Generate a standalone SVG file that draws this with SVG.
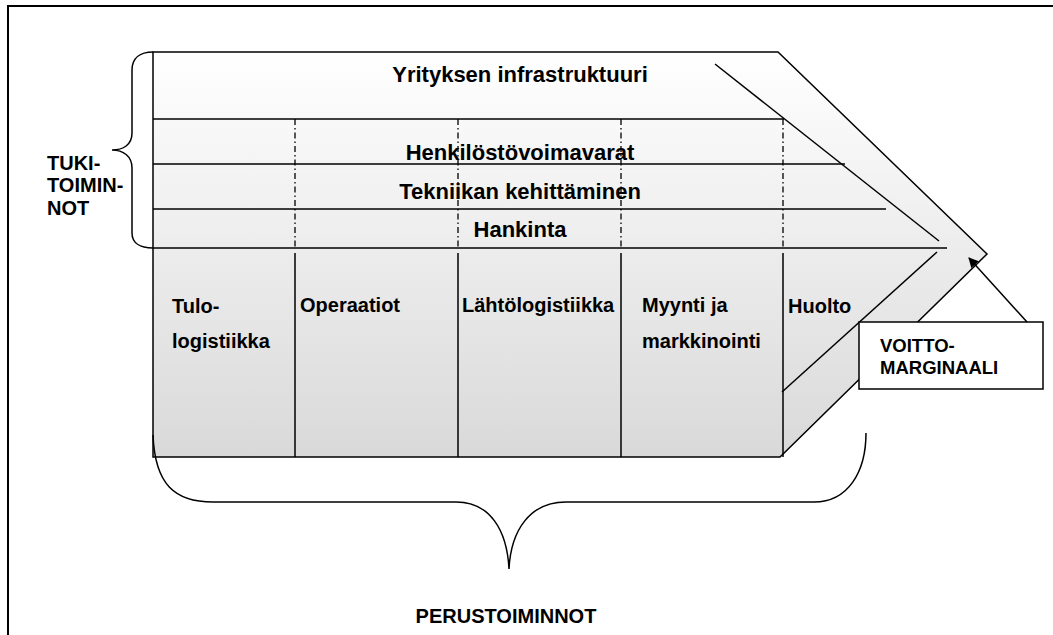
<svg xmlns="http://www.w3.org/2000/svg" width="1053" height="635" viewBox="0 0 1053 635">
  <defs>
    <linearGradient id="bodyFill" x1="0" y1="0" x2="0" y2="1">
      <stop offset="0" stop-color="#ffffff"/>
      <stop offset="1" stop-color="#d9d9d9"/>
    </linearGradient>
    <marker id="arrowHead" viewBox="0 0 10 10" refX="9" refY="5" markerWidth="10" markerHeight="10" markerUnits="userSpaceOnUse" orient="auto">
      <path d="M0,0 L10,5 L0,10 Z" fill="#000"/>
    </marker>
  </defs>
  <style>
    .line { stroke: #000; stroke-width: 1.5; fill: none; }
    .dashdot { stroke: #000; stroke-width: 1.3; fill: none; stroke-dasharray: 6 3 1.5 3; }
    .big { font-family: "Liberation Sans", Arial, sans-serif; font-weight: bold; font-size: 22px; fill: #000; }
    .lbl { font-family: "Liberation Sans", Arial, sans-serif; font-weight: bold; font-size: 20px; fill: #000; }
    .box { font-family: "Liberation Sans", Arial, sans-serif; font-weight: bold; font-size: 18.5px; fill: #000; }
  </style>

  <rect width="1053" height="635" fill="#fff"/>

  <!-- page frame -->
  <path d="M8,635 L8,6 L1053,6" stroke="#000" stroke-width="2" fill="none"/>

  <!-- arrow-shaped value chain body -->
  <g id="chain-body">
    <polygon points="153,52 778,52 987,254 780,457 153,457" fill="url(#bodyFill)" stroke="#000" stroke-width="1.5"/>
    <!-- inner bevel edges -->
    <line class="line" x1="715" y1="64" x2="939" y2="241"/>
    <line class="line" x1="937" y1="252" x2="782" y2="392"/>
  </g>

  <!-- support activities -->
  <g id="support-rows">
    <line class="line" x1="153" y1="119" x2="784" y2="119"/>
    <line class="line" x1="153" y1="164" x2="845" y2="164"/>
    <line class="line" x1="153" y1="209" x2="886" y2="209"/>
    <line class="line" x1="153" y1="248" x2="947" y2="248"/>
    <line class="dashdot" x1="295" y1="119" x2="295" y2="248"/>
    <line class="dashdot" x1="458" y1="119" x2="458" y2="248"/>
    <line class="dashdot" x1="621" y1="119" x2="621" y2="248"/>
    <line class="dashdot" x1="783" y1="119" x2="783" y2="248"/>
  </g>
  <g id="infra"><text class="big" x="520" y="82" text-anchor="middle">Yrityksen infrastruktuuri</text></g>
  <g id="hr"><text class="big" x="520" y="160" text-anchor="middle">Henkilöstövoimavarat</text></g>
  <g id="tech"><text class="big" x="520" y="199" text-anchor="middle">Tekniikan kehittäminen</text></g>
  <g id="procurement"><text class="big" x="520" y="237" text-anchor="middle">Hankinta</text></g>

  <!-- primary activities -->
  <g id="primary-columns">
    <line class="line" x1="295" y1="253" x2="295" y2="457"/>
    <line class="line" x1="458" y1="253" x2="458" y2="457"/>
    <line class="line" x1="621" y1="253" x2="621" y2="457"/>
    <line class="line" x1="783" y1="253" x2="783" y2="457"/>
  </g>
  <g id="inbound">
    <text class="lbl" x="172" y="313">Tulo-</text>
    <text class="lbl" x="172" y="348">logistiikka</text>
  </g>
  <g id="operations"><text class="lbl" x="300" y="312">Operaatiot</text></g>
  <g id="outbound"><text class="lbl" x="462" y="312">Lähtölogistiikka</text></g>
  <g id="sales">
    <text class="lbl" x="642" y="312">Myynti ja</text>
    <text class="lbl" x="642" y="348">markkinointi</text>
  </g>
  <g id="service"><text class="lbl" x="788" y="313">Huolto</text></g>

  <!-- margin callout -->
  <g id="margin">
    <rect x="859" y="322" width="184" height="67" fill="#fff" stroke="#000" stroke-width="1.5"/>
    <text class="box" x="880" y="352">VOITTO-</text>
    <text class="box" x="880" y="374">MARGINAALI</text>
  </g>

  <!-- braces and pointer -->
  <g id="connectors">
    <path class="line" d="M153,52 C140,52 132,58 132,70 L132,133 C132,145 123,150 112,150 C123,150 132,156 132,168 L132,233 C132,243 140,248 153,248"/>
    <path class="line" d="M153,435 C155,485 175,502 213,502 L456,502 C490,502 507,530 509,569 C511,530 530,502 566,502 L814,502 C848,502 866,472 866,433"/>
    <line class="line" x1="1027" y1="322" x2="969" y2="258" marker-end="url(#arrowHead)"/>
  </g>

  <g id="support-label">
    <text class="lbl" x="47" y="170">TUKI-</text>
    <text class="lbl" x="47" y="192">TOIMIN-</text>
    <text class="lbl" x="47" y="215">NOT</text>
  </g>
  <g id="primary-label">
    <text class="lbl" x="506" y="623" text-anchor="middle">PERUSTOIMINNOT</text>
  </g>
</svg>
